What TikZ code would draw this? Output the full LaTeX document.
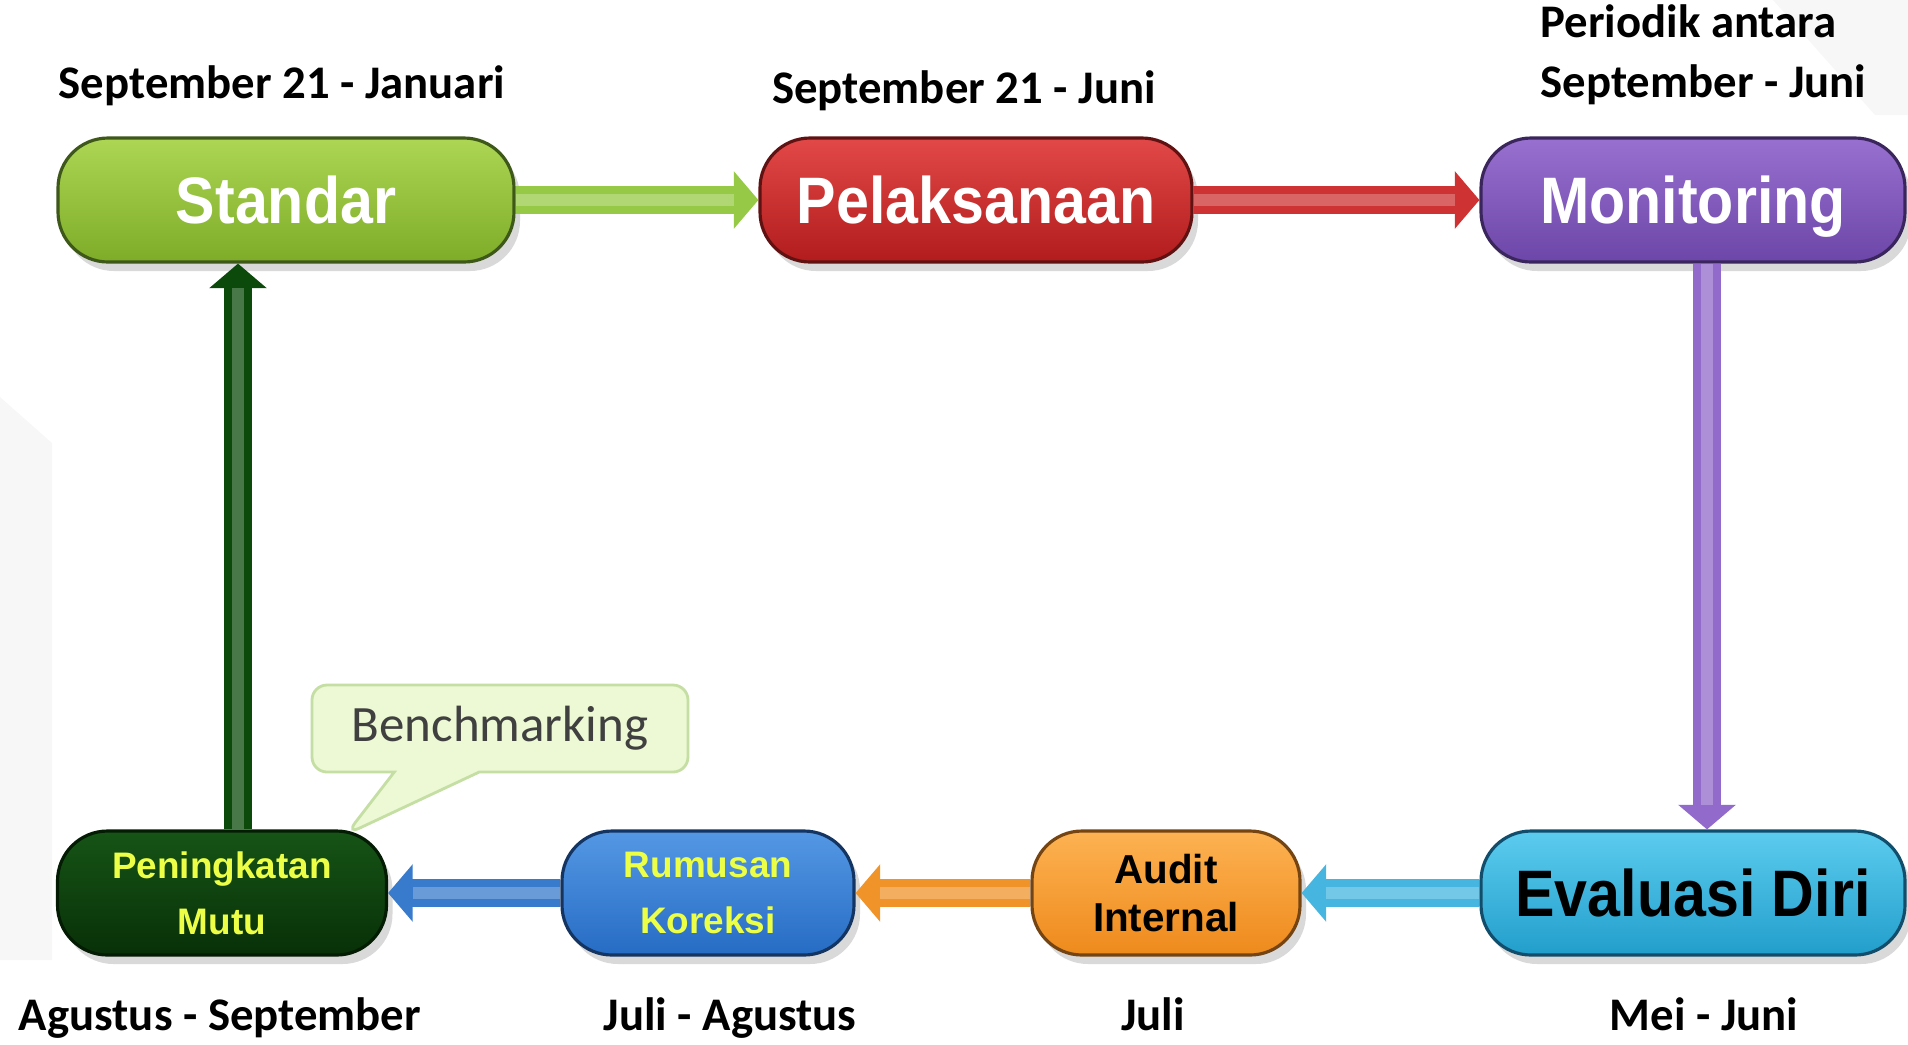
\documentclass[tikz,border=0pt]{standalone}
\usepackage{fontspec}
\setmainfont{Carlito}
\newfontfamily\boxfont[FakeStretch=0.9]{Liberation Sans}
\newfontfamily\smallboxfont{Liberation Sans}
\usetikzlibrary{positioning, arrows.meta, shadows, shapes.callouts}

% fills of the stages: A = top, B = bottom, D = outline
\definecolor{stdA}{RGB}{172,214,84}
\definecolor{stdB}{RGB}{126,172,40}
\definecolor{stdD}{RGB}{62,88,26}
\definecolor{pelA}{RGB}{226,72,72}
\definecolor{pelB}{RGB}{178,28,28}
\definecolor{pelD}{RGB}{96,18,18}
\definecolor{monA}{RGB}{152,112,208}
\definecolor{monB}{RGB}{108,70,168}
\definecolor{monD}{RGB}{58,38,92}
\definecolor{evaA}{RGB}{92,204,238}
\definecolor{evaB}{RGB}{34,158,204}
\definecolor{evaD}{RGB}{18,78,108}
\definecolor{audA}{RGB}{253,178,82}
\definecolor{audB}{RGB}{238,138,28}
\definecolor{audD}{RGB}{116,68,18}
\definecolor{rumA}{RGB}{84,152,228}
\definecolor{rumB}{RGB}{38,108,196}
\definecolor{rumD}{RGB}{20,52,98}
\definecolor{penA}{RGB}{22,84,22}
\definecolor{penB}{RGB}{8,48,8}
\definecolor{penD}{RGB}{4,28,4}
% connectors
\definecolor{gArr}{RGB}{150,202,70}
\definecolor{rArr}{RGB}{206,50,50}
\definecolor{pArr}{RGB}{146,106,204}
\definecolor{cArr}{RGB}{70,182,224}
\definecolor{oArr}{RGB}{240,148,42}
\definecolor{bArr}{RGB}{56,122,204}
\definecolor{dArr}{RGB}{12,74,12}
\definecolor{yell}{RGB}{236,255,70}
\definecolor{benchFill}{RGB}{236,249,212}
\definecolor{benchLine}{RGB}{196,222,164}

\tikzset{
  stage/.style={rounded corners=0.5cm, minimum height=1.24cm, line width=0.9pt,
    draw=#1D, top color=#1A, bottom color=#1B,
    drop shadow={opacity=0.3, shadow xshift=0.6mm, shadow yshift=-0.9mm}},
  bigtxt/.style={font=\boxfont\bfseries\fontsize{18.7}{22}\selectfont, text depth=0pt},
  smalltxt/.style={font=\smallboxfont\bfseries\fontsize{10.5}{16}\selectfont, align=center},
  pipe/.style={line width=8pt, draw=#1, -{Triangle[width=16pt,length=7pt]},
    postaction={draw=white, draw opacity=0.25, line width=3.2pt, arrows=-, shorten >=7pt}},
  lbl/.style={font=\bfseries\fontsize{13.3}{17}\selectfont, anchor=base, inner sep=0pt}
}

\begin{document}
\begin{tikzpicture}
    \useasboundingbox (0,0) rectangle (19.08,-10.44);
    % faint slide background
    \fill[black!3] (0,-3.97) -- (0.52,-4.43) -- (0.52,-9.6) -- (0,-9.6) -- cycle;
    \fill[black!3] (17.73,0) -- (19.08,0) -- (19.08,-1.15) -- (18.75,-1.15) -- cycle;

    % stages
    \node[stage=std, minimum width=4.56cm, text=white, bigtxt] (std) at (2.86,-2.00) {Standar};
    \node[stage=pel, minimum width=4.32cm, text=white, bigtxt] (pel) at (9.76,-2.00) {Pelaksanaan};
    \node[stage=mon, minimum width=4.24cm, text=white, bigtxt] (mon) at (16.93,-2.00) {Monitoring};
    \node[stage=eva, minimum width=4.24cm, text=black, bigtxt] (eva) at (16.93,-8.93) {Evaluasi Diri};
    \node[stage=aud, minimum width=2.68cm, text=black, smalltxt,
          font=\smallboxfont\bfseries\fontsize{11.5}{13.5}\selectfont] (aud) at (11.66,-8.93) {Audit\\Internal};
    \node[stage=rum, minimum width=2.92cm, text=yell, smalltxt] (rum) at (7.08,-8.93) {Rumusan\\Koreksi};
    \node[stage=pen, minimum width=3.29cm, text=yell, smalltxt] (pen) at (2.22,-8.93) {Peningkatan\\Mutu};

    % cycle
    \coordinate (up) at ([xshift=1.6mm]pen.north);
    \draw[pipe=gArr] (std.east) -- (pel.west);
    \draw[pipe=rArr] (pel.east) -- (mon.west);
    \draw[pipe=pArr] ([xshift=1.4mm]mon.south) -- ([xshift=1.4mm]eva.north);
    \draw[pipe=cArr] (eva.west) -- (aud.east);
    \draw[pipe=oArr] (aud.west) -- (rum.east);
    \draw[pipe=bArr] (rum.west) -- (pen.east);
    \draw[pipe=dArr] (up) -- (up |- std.south);

    % callout
    \coordinate (tip) at ([xshift=-4.2mm, yshift=-0.5mm]pen.north east);
    \node[rectangle callout, callout absolute pointer={(tip)}, callout pointer width=0.85cm,
          rounded corners=1.5mm, fill=benchFill, draw=benchLine, line width=0.8pt,
          minimum width=3.76cm, minimum height=0.87cm, text=black!75,
          font=\fontsize{14.5}{17}\selectfont] (bench) at (5.00,-7.285) {Benchmarking};

    % periods
    \node[lbl] (tStd) at (2.82,-0.98) {September 21 - Januari};
    \node[lbl] (tPel) at (9.64,-1.03) {September 21 - Juni};
    \node[lbl, anchor=west, align=left] (tMon) at (15.40,-0.55) {Periodik antara\\September - Juni};
    \node[lbl] (tPen) at (2.20,-10.30) {Agustus - September};
    \node[lbl] (tRum) at (7.30,-10.30) {Juli - Agustus};
    \node[lbl] (tAud) at (11.53,-10.30) {Juli};
    \node[lbl] (tEva) at (17.04,-10.30) {Mei - Juni};
\end{tikzpicture}
\end{document}
